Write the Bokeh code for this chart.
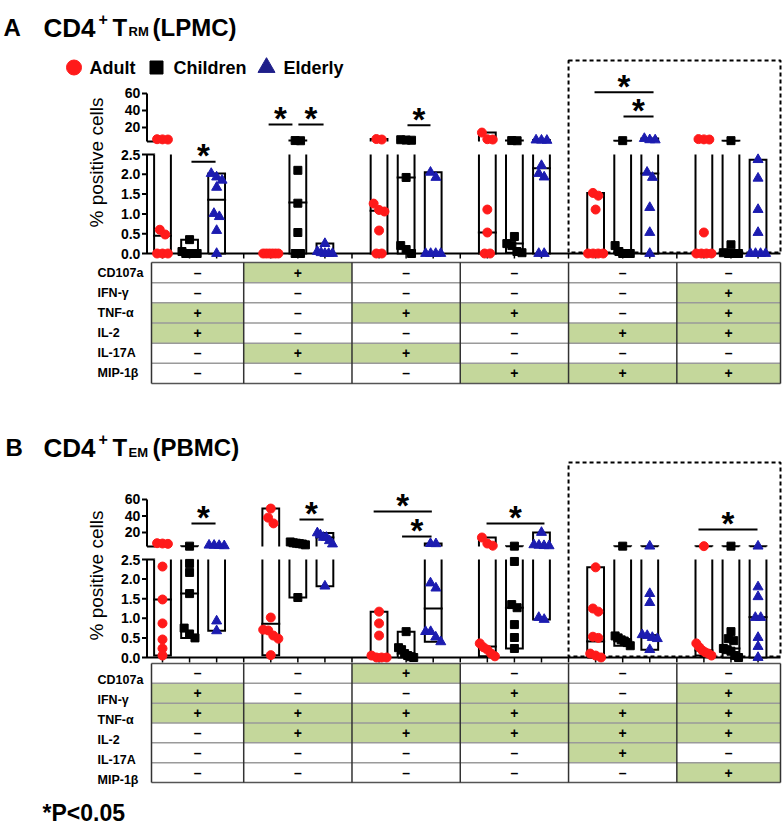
import math
from bokeh.plotting import figure
from bokeh.models import Range1d
from bokeh.layouts import column
from bokeh.embed import file_html
from bokeh.resources import INLINE
from bokeh.core.properties import value

# ---------------------------------------------------------------- data
populations = ["Adult", "Children", "Elderly"]
markers = ["CD107a", "IFN-γ", "TNF-α", "IL-2", "IL-17A", "MIP-1β"]
lower_ticks = [0.0, 0.5, 1.0, 1.5, 2.0, 2.5]
lower_tick_labels = ["0.0", "0.5", "1.0", "1.5", "2.0", "2.5"]
upper_ticks = [20, 40, 60]
upper_tick_labels = ["20", "40", "60"]

# Panel A: CD4+ TRM (LPMC) -- % positive cells per donor, six cytokine combinations
A_adult = [[6.2, 5.8, 6.0, 0.6, 0.48, 0.0, 0.0, 0.0],
           [0.0, 0.0, 0.0, 0.0, 0.0, 0.0],
           [5.8, 6.4, 1.26, 1.1, 1.06, 0.58, 0.0, 0.0],
           [14.0, 6.2, 5.8, 1.11, 0.53, 0.0, 0.0],
           [1.53, 1.46, 1.11, 0.0, 0.0, 0.0, 0.0],
           [6.3, 5.8, 6.0, 0.53, 0.0, 0.0, 0.0, 0.0]]
A_children = [[0.35, 0.05, 0.0, 0.0, 0.0, 0.0],
              [4.6, 4.4, 2.1, 1.27, 0.53, 0.0, 0.0],
              [5.6, 5.2, 5.0, 1.92, 0.2, 0.1, 0.0],
              [4.6, 4.4, 0.43, 0.25, 0.2, 0.05, 0.02],
              [4.5, 0.2, 0.05, 0.0, 0.0, 0.0],
              [4.5, 0.22, 0.02, 0.0, 0.0, 0.0]]
A_elderly = [[2.02, 1.93, 1.85, 1.67, 1.01, 0.93, 0.58, 0.0],
             [0.25, 0.05, 0.02, 0.0, 0.0, 0.0],
             [2.05, 1.92, 0.0, 0.0, 0.0, 0.0],
             [5.2, 5.0, 4.8, 2.22, 2.02, 1.93, 0.0, 0.0],
             [7.0, 5.5, 5.3, 2.05, 1.92, 1.16, 0.53, 0.0],
             [2.37, 1.9, 1.11, 0.53, 0.0, 0.0, 0.0, 0.0]]
A_median_adult = [0.45, 0.0, 1.08, 0.53, 0.0, 0.0]
A_median_children = [0.0, 1.29, 1.92, 0.25, 0.02, 0.0]
A_median_elderly = [1.36, 0.03, 0.0, 2.15, 2.02, 0.0]
A_table = ["-+----", "-----+", "+-++-+", "+---++", "-++---", "---+++"]
A_sig_group = [0, 1, 1, 2, 4, 4]
A_sig_from = [1.07, -0.08, 1.02, 1.05, -0.04, 1.03]
A_sig_to = [1.96, 0.80, 1.95, 1.90, 2.14, 2.14]
A_sig_level = [2.32, 23.5, 23.5, 22.5, 61.5, 32.9]

# Panel B: CD4+ TEM (PBMC)
B_adult = [[7.0, 6.6, 6.2, 2.32, 1.48, 0.87, 0.46, 0.23, 0.05],
           [49.0, 38.0, 31.0, 1.02, 0.71, 0.69, 0.56, 0.48, 0.06],
           [1.17, 0.87, 0.56, 0.05, 0.0, 0.0, 0.0],
           [13.9, 6.6, 4.0, 0.36, 0.26, 0.2, 0.1, 0.03],
           [2.3, 1.25, 1.17, 0.53, 0.5, 0.1, 0.05, 0.0],
           [3.4, 0.36, 0.26, 0.18, 0.13, 0.1, 0.05]]
B_children = [[3.4, 2.4, 2.17, 1.63, 0.75, 0.6, 0.5],
              [8.5, 7.5, 7.0, 6.5, 6.0, 5.0, 1.53],
              [0.66, 0.25, 0.2, 0.1, 0.05, 0.02, 0.0],
              [3.4, 2.45, 1.35, 1.27, 0.84, 0.51, 0.23],
              [3.4, 0.55, 0.5, 0.45, 0.42, 0.38, 0.3],
              [3.4, 0.66, 0.48, 0.43, 0.23, 0.2, 0.16, 0.05, 0.0]]
B_elderly = [[4.6, 4.4, 4.2, 3.8, 0.93, 0.68],
             [19.5, 17.0, 14.0, 14.0, 10.0, 6.0, 1.82],
             [6.5, 6.3, 1.9, 1.77, 0.66, 0.66, 0.52, 0.4],
             [20.0, 5.0, 4.5, 4.0, 3.8, 1.02, 0.97],
             [3.4, 1.63, 1.4, 0.58, 0.56, 0.51, 0.48, 0.2],
             [3.4, 1.8, 1.55, 1.02, 1.02, 0.51, 0.28, 0.0]]
B_median_adult = [1.48, 0.86, 0.03, 0.28, 0.41, 0.18]
B_median_children = [1.63, 6.5, 0.1, 1.27, 0.43, 0.23]
B_median_elderly = [4.0, 14.0, 1.25, 4.0, 0.57, 1.03]
B_table = ["--+---", "+--+-+", "++++++", "-+++++", "----+-", "-----+"]
B_sig_group = [0, 1, 2, 2, 3, 5]
B_sig_from = [1.07, 1.06, -0.20, 0.85, -0.03, -0.20]
B_sig_to = [1.96, 1.95, 1.95, 1.94, 2.11, 1.98]
B_sig_level = [30.9, 35.7, 45.4, 15.1, 30.9, 23.6]

# ---------------------------------------------------------------- style / layout
COLORS = ["#FF1A1A", "#000000", "#1C1CB0"]
SHAPES = ["circle", "square", "triangle"]
SIZES = [9, 8, 10]
GREEN = "#C4D79B"
FONT = value("Liberation Sans")

PAGE_W = 784
XC0 = 162.0      # px of first column
XSTEP = 27.07    # px per column slot
X_LEFT = (0 - XC0) / XSTEP
X_RIGHT = (PAGE_W - XC0) / XSTEP
AXIS_X = (146.5 - XC0) / XSTEP
TABLE_LEFT = (151 - XC0) / XSTEP
TABLE_RIGHT = (780 - XC0) / XSTEP
BAR_HW = 0.31
MED_HW = 0.35
BOUNDS = [TABLE_LEFT, 3, 7, 11, 15, 19, TABLE_RIGHT]
BREAK_LO = 2.5

CFG_A = dict(top=0, bot=396, zero=253.0, ppl=39.6, ub_py=141.0, ub_v=3.5, ppu=0.85,
             tbl_top=262.0, rh=20.17, lbl_dy=0.0, box_top=60.0, box_bot=252.0,
             ylab_y=162.0)
CFG_B = dict(top=396, bot=825, zero=657.0, ppl=39.2, ub_py=546.0, ub_v=3.0, ppu=0.825,
             tbl_top=663.0, rh=19.83, lbl_dy=7.0, box_top=462.0, box_bot=656.0,
             ylab_y=575.0)


def to_py(v, c):
    if v <= BREAK_LO:
        return c["zero"] - v * c["ppl"]
    return c["ub_py"] - (v - c["ub_v"]) * c["ppu"]


def spread(vals, c):
    order = sorted(range(len(vals)), key=lambda k: -vals[k])
    clusters, cur = [], [order[0]]
    for a, b in zip(order, order[1:]):
        if abs(to_py(vals[b], c) - to_py(vals[a], c)) < 7:
            cur.append(b)
        else:
            clusters.append(cur)
            cur = [b]
    clusters.append(cur)
    offs = [0.0] * len(vals)
    for cl in clusters:
        n = len(cl)
        step = min(0.2, 0.56 / (n - 1)) if n > 1 else 0.0
        for j, k in enumerate(cl):
            offs[k] = (j - (n - 1) / 2) * step
    return offs


def txt(p, x, y, t, size, align="left", baseline="alphabetic", style="bold",
        angle=0.0, xr="px", yr="pix", color="black"):
    p.text(x=x, y=y, text=t, angle=angle, text_font=FONT, text_font_size=size,
           text_font_style=style, text_align=align, text_baseline=baseline,
           text_color=color, x_range_name=xr, y_range_name=yr)


def build(c, pops, meds, table, sig_g, sig_f, sig_t, sig_l, title_parts, legend=False,
          footnote=False):
    h = c["bot"] - c["top"]
    row0c = c["tbl_top"] + c["rh"] / 2
    p = figure(width=PAGE_W, height=h,
               x_range=Range1d(X_LEFT, X_RIGHT),
               y_range=Range1d((c["zero"] - c["bot"]) / c["ppl"], (c["zero"] - c["top"]) / c["ppl"]),
               x_axis_type=None, y_axis_type=None, toolbar_location=None,
               output_backend="svg", min_border=0, outline_line_color=None)
    p.extra_x_ranges = {"px": Range1d(0, PAGE_W)}
    p.extra_y_ranges = {
        "up": Range1d(c["ub_v"] + (c["ub_py"] - c["bot"]) / c["ppu"],
                      c["ub_v"] + (c["ub_py"] - c["top"]) / c["ppu"]),
        "tbl": Range1d((c["bot"] - row0c) / c["rh"], (c["top"] - row0c) / c["rh"]),
        "pix": Range1d(c["bot"], c["top"]),
    }

    # dashed box around the last two combinations
    p.quad(left=[4 * 4 - 1], right=[TABLE_RIGHT], top=[c["box_top"]], bottom=[c["box_bot"]],
           fill_color=None, line_color="black", line_width=2, line_dash="4 3",
           y_range_name="pix")

    # --- y axis (broken)
    tl = 5 / XSTEP
    p.segment(x0=[AXIS_X], y0=[0], x1=[AXIS_X], y1=[BREAK_LO], line_width=2, line_color="black")
    p.segment(x0=[AXIS_X], y0=[c["ub_v"]], x1=[AXIS_X], y1=[upper_ticks[-1]], line_width=2,
              line_color="black", y_range_name="up")
    p.segment(x0=[AXIS_X - tl] * len(lower_ticks), y0=lower_ticks,
              x1=[AXIS_X] * len(lower_ticks), y1=lower_ticks, line_width=2, line_color="black")
    p.segment(x0=[AXIS_X - tl] * len(upper_ticks), y0=upper_ticks,
              x1=[AXIS_X] * len(upper_ticks), y1=upper_ticks, line_width=2, line_color="black",
              y_range_name="up")
    p.segment(x0=[AXIS_X], y0=[BREAK_LO], x1=[AXIS_X + 0.3], y1=[BREAK_LO], line_width=2,
              line_color="black")
    p.segment(x0=[AXIS_X], y0=[c["ub_v"]], x1=[AXIS_X + 0.3], y1=[c["ub_v"]], line_width=2,
              line_color="black", y_range_name="up")
    txt(p, [AXIS_X - tl - 0.06] * len(lower_ticks), lower_ticks, lower_tick_labels, "14px",
        align="right", baseline="middle", xr="default", yr="default")
    txt(p, [AXIS_X - tl - 0.06] * len(upper_ticks), upper_ticks, upper_tick_labels, "14px",
        align="right", baseline="middle", xr="default", yr="up")
    txt(p, [96], [c["ylab_y"]], ["% positive cells"], "19px", align="center",
        baseline="middle", style="normal", angle=math.pi / 2)

    # --- x axis
    p.segment(x0=[AXIS_X], y0=[0], x1=[TABLE_RIGHT], y1=[0], line_width=2, line_color="black")
    ticks = list(range(23))
    p.segment(x0=ticks, y0=[0] * 23, x1=ticks, y1=[-5 / c["ppl"]] * 23, line_width=1.5,
              line_color="black")

    # --- floating bars (min..max), medians, points
    lo_xs, lo_ys, up_xs, up_ys = [], [], [], []
    med_lo = ([], [], [])
    med_up = ([], [], [])
    pts = []
    for pi_, (groups, medians) in enumerate(zip(pops, meds)):
        pts_lo_x, pts_lo_y, pts_up_x, pts_up_y = [], [], [], []
        for g, vals in enumerate(groups):
            xc = 4 * g + pi_
            lo, hi = min(vals), max(vals)
            l, r = xc - BAR_HW, xc + BAR_HW
            if hi <= BREAK_LO:
                lo_xs.append([l, l, r, r, l]); lo_ys.append([lo, hi, hi, lo, lo])
            elif lo <= BREAK_LO:
                lo_xs.append([l, l, r, r]); lo_ys.append([BREAK_LO, lo, lo, BREAK_LO])
                up_xs.append([l, l, r, r]); up_ys.append([c["ub_v"], hi, hi, c["ub_v"]])
            else:
                up_xs.append([l, l, r, r, l]); up_ys.append([lo, hi, hi, lo, lo])
            m = medians[g]
            tgt = med_lo if m <= BREAK_LO else med_up
            tgt[0].append(xc - MED_HW); tgt[1].append(xc + MED_HW); tgt[2].append(m)
            offs = spread(vals, c)
            for v, o in zip(vals, offs):
                if v <= BREAK_LO:
                    pts_lo_x.append(xc + o); pts_lo_y.append(v)
                else:
                    pts_up_x.append(xc + o); pts_up_y.append(v)
        pts.append((pts_lo_x, pts_lo_y, pts_up_x, pts_up_y))

    p.patches(xs=lo_xs, ys=lo_ys, fill_color="white", line_color=None)
    p.patches(xs=up_xs, ys=up_ys, fill_color="white", line_color=None, y_range_name="up")
    p.multi_line(xs=lo_xs, ys=lo_ys, line_color="black", line_width=2, line_join="miter")
    p.multi_line(xs=up_xs, ys=up_ys, line_color="black", line_width=2, line_join="miter",
                 y_range_name="up")
    p.segment(x0=med_lo[0], y0=med_lo[2], x1=med_lo[1], y1=med_lo[2], line_width=2,
              line_color="black")
    p.segment(x0=med_up[0], y0=med_up[2], x1=med_up[1], y1=med_up[2], line_width=2,
              line_color="black", y_range_name="up")
    for pi_ in range(3):
        lx, ly, ux, uy = pts[pi_]
        p.scatter(x=lx, y=ly, marker=SHAPES[pi_], size=SIZES[pi_], fill_color=COLORS[pi_],
                  line_color=COLORS[pi_])
        p.scatter(x=ux, y=uy, marker=SHAPES[pi_], size=SIZES[pi_], fill_color=COLORS[pi_],
                  line_color=COLORS[pi_], y_range_name="up")

    # --- significance bars
    for g, f, t, lvl in zip(sig_g, sig_f, sig_t, sig_l):
        x0, x1 = 4 * g + f, 4 * g + t
        rn = "default" if lvl <= BREAK_LO else "up"
        p.segment(x0=[x0], y0=[lvl], x1=[x1], y1=[lvl], line_width=2, line_color="black",
                  y_range_name=rn)
        txt(p, [(x0 + x1) / 2], [to_py(lvl, c) - 6], ["*"], "33px", align="center",
            baseline="middle", xr="default", yr="pix")

    # --- table
    for k, row in enumerate(table):
        for g, s in enumerate(row):
            if s == "+":
                p.quad(left=[BOUNDS[g]], right=[BOUNDS[g + 1]], top=[k - 0.5], bottom=[k + 0.5],
                       fill_color=GREEN, line_color=None, y_range_name="tbl")
    p.segment(x0=[TABLE_LEFT] * 5, y0=[k + 0.5 for k in range(5)], x1=[TABLE_RIGHT] * 5,
              y1=[k + 0.5 for k in range(5)], line_color="#9A9A9A", line_width=1.5,
              y_range_name="tbl")
    p.segment(x0=[TABLE_LEFT, TABLE_LEFT], y0=[-0.5, 5.5], x1=[TABLE_RIGHT, TABLE_RIGHT],
              y1=[-0.5, 5.5], line_color="#555555", line_width=1.5, y_range_name="tbl")
    p.segment(x0=BOUNDS, y0=[-0.5] * len(BOUNDS), x1=BOUNDS, y1=[5.5] * len(BOUNDS),
              line_color="#333333", line_width=1.5, y_range_name="tbl")
    sx, sy, st = [], [], []
    for k, row in enumerate(table):
        for g, s in enumerate(row):
            sx.append((BOUNDS[g] + BOUNDS[g + 1]) / 2); sy.append(k)
            st.append("+" if s == "+" else "\u2013")
    txt(p, sx, sy, st, "14px", align="center", baseline="middle", xr="default", yr="tbl")
    txt(p, [97] * 6, [row0c + k * c["rh"] + c["lbl_dy"] for k in range(6)], markers,
        "12.5px", baseline="middle")

    # --- title
    for t, x, y, s in title_parts:
        txt(p, [x], [y], [t], s)

    if legend:
        lx = [73.5, 156, 266]
        for i in range(3):
            p.scatter(x=[lx[i]], y=[67], marker=SHAPES[i], size=[15, 13, 17][i],
                      fill_color="#1F1F8A" if i == 2 else COLORS[i],
                      line_color="#1F1F8A" if i == 2 else COLORS[i],
                      x_range_name="px", y_range_name="pix")
        txt(p, [89, 173, 283], [67, 67, 67], populations, "18px", baseline="middle")
    if footnote:
        txt(p, [42], [812], ["*P<0.05"], "23px")
    return p


pA = build(CFG_A, [A_adult, A_children, A_elderly],
           [A_median_adult, A_median_children, A_median_elderly], A_table,
           A_sig_group, A_sig_from, A_sig_to, A_sig_level,
           [("A", 3, 27, "24px"), ("CD4", 43, 27, "26px"), ("+", 98, 18, "16px"),
            ("T", 112, 27, "24px"), ("RM", 128, 31, "13px"), ("(LPMC)", 152, 27, "24px")],
           legend=True)
pB = build(CFG_B, [B_adult, B_children, B_elderly],
           [B_median_adult, B_median_children, B_median_elderly], B_table,
           B_sig_group, B_sig_from, B_sig_to, B_sig_level,
           [("B", 5, 447, "24px"), ("CD4", 43, 447, "26px"), ("+", 98, 438, "16px"),
            ("T", 112, 447, "24px"), ("EM", 128, 452, "13px"), ("(PBMC)", 152, 447, "24px")],
           footnote=True)

layout = column(pA, pB, spacing=0)
open("out.html", "w").write(file_html(layout, INLINE))
